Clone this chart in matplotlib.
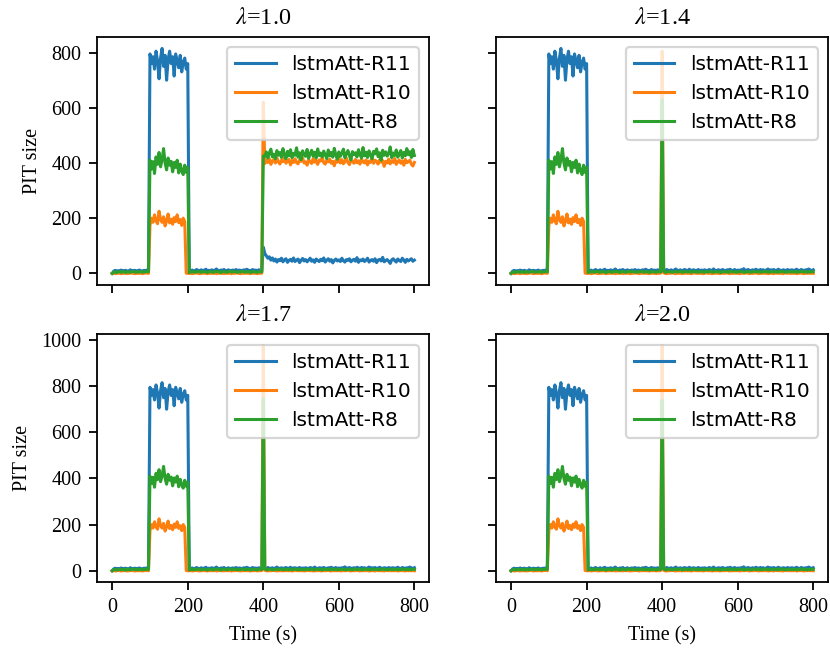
import numpy as np
import matplotlib
matplotlib.use("Agg")
import matplotlib.pyplot as plt

plt.rcParams["font.family"] = "serif"
plt.rcParams["font.serif"] = ["Liberation Serif", "DejaVu Serif"]
plt.rcParams["mathtext.fontset"] = "stix"
plt.rcParams["font.size"] = 14.5
plt.rcParams["axes.linewidth"] = 1.3
plt.rcParams["patch.linewidth"] = 1.6
for a in ("xtick", "ytick"):
    plt.rcParams[a + ".major.size"] = 5.7
    plt.rcParams[a + ".major.width"] = 1.3
    plt.rcParams[a + ".major.pad"] = 5.7
plt.rcParams["axes.titlepad"] = 9.8
plt.rcParams["axes.labelpad"] = 6.5

lambdas = ["1.0", "1.4", "1.7", "2.0"]
labels = ["lstmAtt-R11", "lstmAtt-R10", "lstmAtt-R8"]
step = 4  # seconds between samples

# base series (t = 0..800 every 4 s), idle -> burst 100-200 s -> idle
r11_base = [
    0, 8, 11, 7, 10, 9, 12, 8, 10, 11, 7, 9, 13, 8, 10, 11, 9, 10, 12, 9, 8, 11, 10, 12, 11,
    795, 760, 785, 740, 805, 770, 705, 780, 815, 750, 790, 700, 775, 805, 760, 785, 715, 795,
    770, 745, 790, 730, 765, 780, 740, 760,
    6, 9, 12, 8, 11, 14, 9, 10, 13, 8, 12, 15, 9, 11, 10,
    13, 9, 12, 16, 10, 8, 12, 11, 14, 9, 10, 13, 8, 11, 12,
    10, 14, 9, 12, 11, 8, 13, 10, 15, 12, 9, 11, 14, 10, 12,
    9, 13, 11, 10, 15, 12, 9, 14, 11, 10, 13, 8, 12, 16, 11,
    10, 13, 9, 12, 14, 11, 10, 15, 9, 12, 13, 10, 11, 14, 9,
    12, 10, 13, 11, 9, 14, 12, 10, 16, 11, 9, 13, 12, 10, 14,
    11, 9, 13, 12, 15, 10, 11, 14, 9, 12, 10, 13, 11, 17, 10,
    12, 14, 10, 11, 13, 9, 15, 12, 10, 14, 11, 13, 9, 12, 16,
    10, 13, 11, 14, 9, 12, 15, 11, 10, 13, 12, 9, 14, 11, 12,
    13, 10, 12, 15, 11, 9, 14, 12, 10, 13, 11, 16, 12, 10, 13,
]
r10_base = [
    0, 1, -1, 0, 2, 0, -1, 1, 0, 1, -1, 0, 1, 2, 0, -1, 1, 0, 0, 1, -1, 0, 2, 1, 0,
    175, 200, 185, 212, 190, 180, 225, 195, 185, 205, 172, 190, 215, 183, 196, 178, 202, 188,
    212, 184, 195, 174, 200, 188,
    1, 0,
    0, 1, -1, 0, 2, 1, 0, -1, 1, 0, 2, 0, -1, 1, 0,
    1, 0, 2, -1, 0, 1, 0, 1, -1, 2, 0, 1, 0, -1, 1,
    0, 2, 1, 0, -1, 1, 0, 2, 0, 1, -1, 0, 1, 0, 2,
    -1, 1, 0, 1, 0, 2, 0, -1, 1, 0, 1, 2, 0, -1, 1,
    0, 1, -1, 2, 0, 1, 0, 1, -1, 0, 2, 1, 0, 1, 0,
    1, -1, 0, 2, 1, 0, 1, -1, 0, 1, 0, 2, -1, 0, 1,
    0, 1, 2, 0, -1, 1, 0, 1, 0, 2, -1, 0, 1, 0, 1,
    2, 0, -1, 1, 0, 1, 2, 0, -1, 1, 0, 1, 0, 2, -1,
    0, 1, 0, -1, 2, 1, 0, 1, 0, -1, 1, 2, 0, 1, 0,
    1, 0, 2, -1, 0, 1, 1, 0, -1, 2, 0, 1, 0, 1, 0,
]
r8_base = [
    0, 4, 6, 3, 5, 7, 4, 6, 5, 3, 7, 5, 4, 6, 8, 5, 4, 6, 5, 7, 4, 6, 5, 7, 6,
    410, 378, 405, 362, 422, 395, 438, 386, 412, 452, 400, 375, 418, 392, 406, 368, 402, 384,
    410, 364, 396, 372, 358, 392, 366, 384,
    3, 6, 5, 7, 4, 6, 8, 5, 4, 7, 6, 5, 3, 6, 7,
    5, 4, 7, 6, 8, 5, 3, 6, 7, 5, 4, 6, 8, 5, 6,
    7, 5, 4, 6, 5, 8, 6, 4, 7, 5, 6, 3, 7, 6, 5,
    4, 6, 7, 5, 6, 8, 4, 5, 7, 6, 5, 4, 6, 7, 5,
    6, 8, 5, 4, 7, 6, 5, 7, 4, 6, 8, 5, 6, 4, 7,
    5, 6, 4, 7, 5, 6, 8, 5, 4, 6, 7, 5, 6, 3, 6,
    7, 5, 6, 4, 8, 6, 5, 7, 4, 6, 5, 7, 6, 5, 4,
    6, 7, 5, 4, 6, 8, 5, 6, 7, 4, 5, 6, 8, 5, 6,
    4, 6, 7, 5, 6, 4, 7, 5, 8, 6, 5, 4, 6, 7, 5,
    6, 5, 7, 4, 6, 5, 8, 6, 5, 7, 4, 6, 5, 7, 6,
]

# value at t = 400 s for each lambda
spike_r11 = [95, 12, 12, 12]
spike_r10 = [620, 805, 975, 975]
spike_r8 = [425, 630, 745, 740]

# lambda = 1.0 keeps a higher level after 400 s (t = 404..800)
r11_tail = [
    72, 64, 55, 60, 48, 56, 45, 52, 41, 50, 46, 55, 42, 49, 53, 40, 47, 51, 44, 56,
    43, 48, 52, 39, 47, 54, 45, 50, 42, 48, 55, 44, 49, 40, 52, 47, 43, 51, 46, 56,
    41, 48, 53, 44, 50, 38, 47, 52, 45, 49, 43, 55, 46, 41, 50, 47, 53, 42, 48, 51,
    44, 57, 40, 49, 46, 52, 43, 48, 55, 41, 47, 50, 44, 53, 39, 48, 51, 45, 58, 42,
    47, 50, 44, 36, 49, 53, 46, 41, 52, 47, 43, 55, 48, 40, 51, 45, 49, 53, 44, 48,
]
r10_tail = [
    398, 410, 402, 415, 395, 408, 412, 400, 418, 404, 396, 410, 405, 420, 399, 407, 413, 393, 409, 402,
    415, 401, 397, 411, 406, 419, 400, 404, 392, 412, 405, 398, 416, 403, 409, 395, 411, 407, 420, 401,
    396, 410, 404, 414, 399, 406, 390, 409, 403, 417, 400, 412, 397, 405, 418, 402, 394, 410, 406, 399,
    413, 401, 408, 396, 415, 404, 400, 411, 393, 407, 402, 418, 399, 410, 405, 396, 412, 403, 409, 388,
    406, 400, 414, 397, 408, 402, 416, 395, 404, 411, 399, 407, 392, 413, 401, 405, 410, 396, 389, 402,
]
r8_tail = [
    425, 440, 418, 436, 450, 422, 432, 415, 445, 428, 438, 420, 452, 430, 416, 442, 426, 448, 419, 435,
    428, 455, 421, 437, 412, 444, 430, 424, 449, 417, 433, 446, 425, 439, 418, 451, 427, 436, 422, 443,
    430, 416, 447, 426, 438, 421, 453, 429, 414, 440, 424, 436, 450, 419, 433, 445, 427, 411, 441, 430,
    437, 422, 448, 431, 418, 456, 426, 439, 420, 444, 429, 415, 442, 433, 451, 423, 437, 410, 446, 428,
    440, 425, 434, 458, 419, 436, 427, 447, 421, 432, 445, 418, 438, 426, 452, 430, 441, 420, 449, 427,
]

bases = [r11_base, r10_base, r8_base]
spikes = [spike_r11, spike_r10, spike_r8]
tails = [r11_tail, r10_tail, r8_tail]
i400 = 400 // step

fig, axes = plt.subplots(2, 2, figsize=(8.3, 6.52), dpi=100, sharex=True, sharey="row")
fig.subplots_adjust(left=0.117, right=0.998, top=0.943, bottom=0.107, wspace=0.2, hspace=0.2)

for k, ax in enumerate(axes.flat):
    for s in range(3):
        y = list(bases[s])
        y[i400] = spikes[s][k]
        if k == 0:
            y = y[:i400 + 1] + tails[s]
        x = np.arange(len(y)) * step
        ax.plot(x, y, lw=2.2, label=labels[s])
    ax.set_title(r"$\lambda$=" + lambdas[k])
    ax.legend(loc="upper right", prop={"family": "DejaVu Sans", "size": 14.5})

for ax in axes[:, 0]:
    ax.set_ylabel("PIT size")
for ax in axes[1, :]:
    ax.set_xlabel("Time (s)")
    ax.set_xticks([0, 200, 400, 600, 800])

plt.savefig("out.png")
